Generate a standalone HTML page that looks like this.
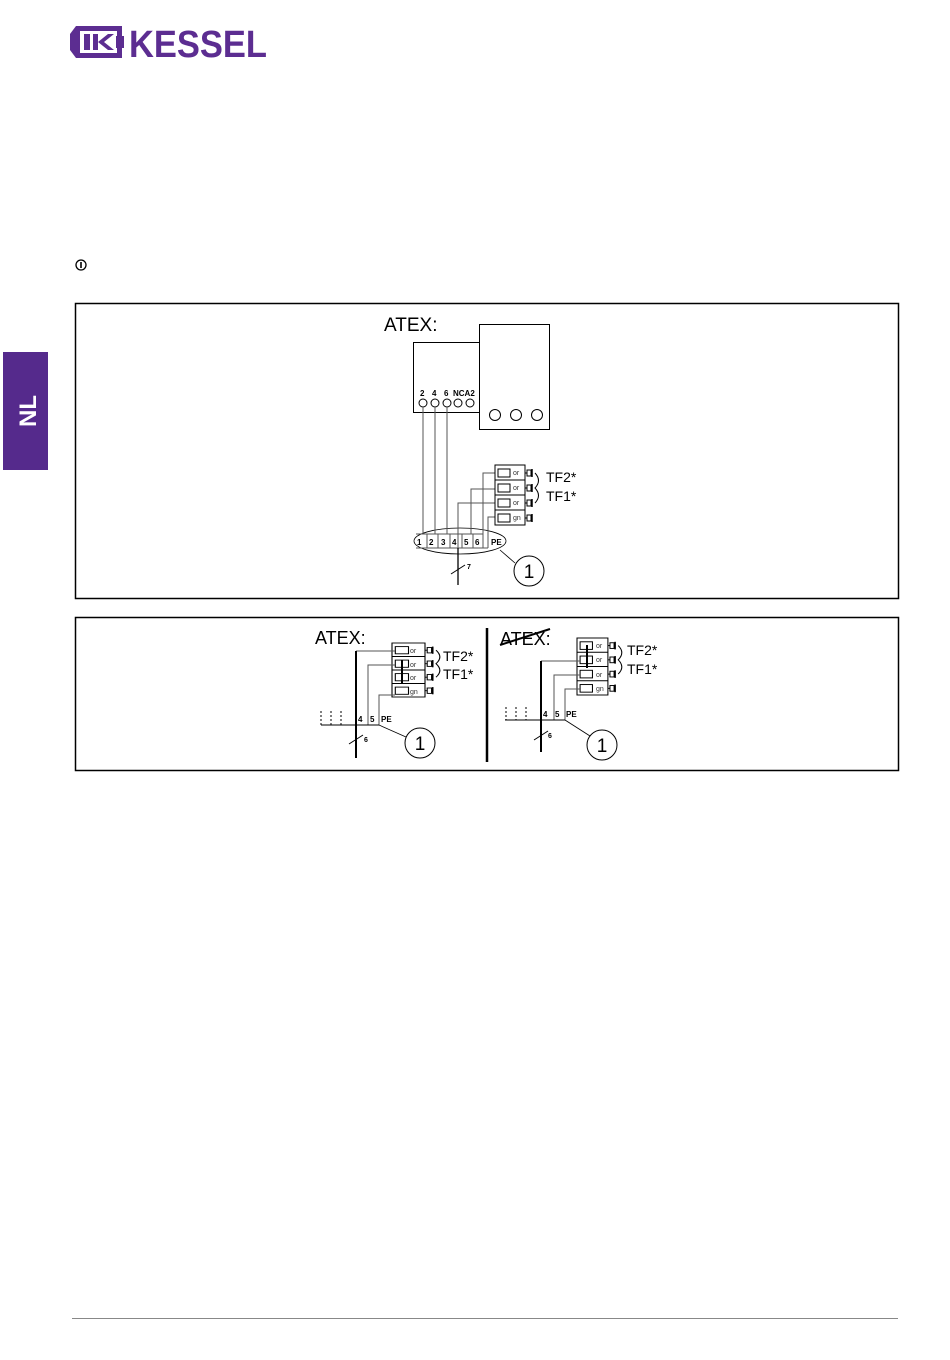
<!DOCTYPE html>
<html><head><meta charset="utf-8"><style>
html,body{margin:0;padding:0;background:#fff;}
svg{display:block;font-family:"Liberation Sans",Arial,sans-serif;}
</style></head><body>
<svg width="950" height="1360" viewBox="0 0 950 1360" xmlns="http://www.w3.org/2000/svg">
<defs>
<g id="blk" fill="none" stroke="#000" stroke-width="1">
  <rect x="0" y="0" width="30" height="60" fill="#fff"/>
  <line x1="0" y1="15" x2="30" y2="15"/><line x1="0" y1="30" x2="30" y2="30"/><line x1="0" y1="45" x2="30" y2="45"/>
  <rect x="3" y="4" width="12" height="8"/><rect x="3" y="19" width="12" height="8"/><rect x="3" y="34" width="12" height="8"/><rect x="3" y="49" width="12" height="8"/>
  <g id="plug"><line x1="30" y1="8" x2="32" y2="8"/><rect x="32" y="5" width="4" height="6"/><line x1="37" y1="4" x2="37" y2="12" stroke-width="1.5"/></g>
  <use href="#plug" y="15"/><use href="#plug" y="30"/><use href="#plug" y="45"/>
  <path d="M40 8 Q47 15.5 40 23 Q47 30.5 40 38"/>
</g>
</defs>

<!-- Logo -->
<path d="M76 26 H122 V58 H76 L70 50 V34 Z" fill="#5c2d91"/>
<rect x="80" y="31" width="37" height="22" fill="#fff"/>
<rect x="84" y="34" width="6" height="16" fill="#5c2d91"/>
<rect x="93" y="34" width="5" height="16" fill="#5c2d91"/>
<path d="M98 42 L108 34 H114 L104 42 L114 50 H108 Z" fill="#5c2d91"/>
<path d="M116 36 H124 V48 H116 Z" fill="#5c2d91"/>
<text x="129" y="57" font-size="38" font-weight="bold" fill="#5c2d91" textLength="138" lengthAdjust="spacingAndGlyphs">KESSEL</text>

<!-- NL tab -->
<rect x="3" y="352" width="45" height="118" fill="#552a8c"/>
<text transform="translate(36,411) rotate(-90)" text-anchor="middle" font-size="24" font-weight="bold" fill="#fff">NL</text>

<!-- info icon -->
<circle cx="81" cy="265" r="5" fill="none" stroke="#000" stroke-width="1.3"/>
<line x1="81" y1="262" x2="81" y2="268" stroke="#000" stroke-width="1.6"/>

<!-- Box 1 -->
<rect x="75.5" y="303.5" width="823" height="295" fill="none" stroke="#000" stroke-width="1.5"/>
<text x="384" y="331" font-size="19">ATEX:</text>
<rect x="413.5" y="342.5" width="66" height="70" fill="none" stroke="#000"/>
<rect x="479.5" y="324.5" width="70" height="105" fill="none" stroke="#000"/>
<g font-size="8" font-weight="bold"><text x="420" y="396">2</text><text x="432" y="396">4</text><text x="444" y="396">6</text><text x="453" y="396">NCA2</text></g>
<g fill="none" stroke="#000"><circle cx="423" cy="403" r="4"/><circle cx="435" cy="403" r="4"/><circle cx="447" cy="403" r="4"/><circle cx="458" cy="403" r="4"/><circle cx="470" cy="403" r="4"/>
<circle cx="495" cy="415" r="5.5"/><circle cx="516" cy="415" r="5.5"/><circle cx="537" cy="415" r="5.5"/></g>
<ellipse cx="460" cy="541" rx="46" ry="13" fill="none" stroke="#000" stroke-width="0.8"/>
<g stroke="#555" fill="none" stroke-width="1">
<line x1="423" y1="407" x2="423" y2="534"/><line x1="435" y1="407" x2="435" y2="534"/><line x1="447" y1="407" x2="447" y2="534"/>
<polyline points="495,473 483,473 483,548"/><polyline points="495,489 471,489 471,534"/><polyline points="495,503 458,503 458,548"/><polyline points="495,517 488,517 488,548"/>
<line x1="427" y1="534" x2="427" y2="548"/><line x1="438" y1="534" x2="438" y2="548"/><line x1="450" y1="534" x2="450" y2="548"/><line x1="462" y1="534" x2="462" y2="548"/><line x1="473" y1="534" x2="473" y2="548"/>
<line x1="416" y1="534" x2="483" y2="534"/>
<line x1="416" y1="548" x2="488" y2="548"/>
</g>
<g font-size="8" font-weight="bold"><text x="417" y="545">1</text><text x="429" y="545">2</text><text x="441" y="545">3</text><text x="452" y="545">4</text><text x="464" y="545">5</text><text x="475" y="545">6</text><text x="491" y="545">PE</text></g>
<line x1="458" y1="548" x2="458" y2="585" stroke="#000" stroke-width="1.3"/>
<line x1="451" y1="574" x2="465" y2="565" stroke="#000"/>
<text x="467" y="569" font-size="7" font-weight="bold">7</text>
<line x1="500" y1="550" x2="515" y2="563" stroke="#000" stroke-width="0.8"/>
<circle cx="529" cy="571" r="15" fill="#fff" stroke="#000"/>
<text x="529" y="578" font-size="19" text-anchor="middle">1</text>
<use href="#blk" x="495" y="465"/>
<g font-size="7" fill="#333"><text x="513" y="475">or</text><text x="513" y="490">or</text><text x="513" y="505">or</text><text x="513" y="520">gn</text></g>
<text x="546" y="482" font-size="14">TF2*</text><text x="546" y="501" font-size="14">TF1*</text>

<!-- Box 2 -->
<rect x="75.5" y="617.5" width="823" height="153" fill="none" stroke="#000" stroke-width="1.5"/>
<line x1="487" y1="628" x2="487" y2="762" stroke="#000" stroke-width="2.5"/>

<!-- left -->
<text x="315" y="644" font-size="18">ATEX:</text>
<use href="#blk" transform="translate(392,643) scale(1.1,0.9)"/>
<g font-size="7" fill="#333"><text x="410" y="653">or</text><text x="410" y="667">or</text><text x="410" y="680">or</text><text x="410" y="694">gn</text></g>
<text x="443" y="661" font-size="14">TF2*</text><text x="443" y="679" font-size="14">TF1*</text>
<line x1="402" y1="660" x2="402" y2="684" stroke="#000" stroke-width="2"/>
<g stroke="#555" fill="none"><polyline points="395,651 356,651"/><polyline points="395,665 368,665 368,725"/><polyline points="395,695 379,695 379,725"/></g>
<line x1="321" y1="725" x2="379" y2="725" stroke="#000"/>
<g stroke="#000" stroke-dasharray="2,2"><line x1="321" y1="711" x2="321" y2="725"/><line x1="331" y1="711" x2="331" y2="725"/><line x1="341" y1="711" x2="341" y2="725"/></g>
<line x1="356" y1="651" x2="356" y2="758" stroke="#000" stroke-width="2"/>
<g font-size="8" font-weight="bold"><text x="358" y="722">4</text><text x="370" y="722">5</text><text x="381" y="722">PE</text></g>
<line x1="349" y1="744" x2="363" y2="735" stroke="#000"/><text x="364" y="742" font-size="7" font-weight="bold">6</text>
<line x1="379" y1="725" x2="406" y2="737" stroke="#000" stroke-width="0.8"/>
<circle cx="420" cy="743" r="15" fill="#fff" stroke="#000"/>
<text x="420" y="750" font-size="19" text-anchor="middle">1</text>

<!-- right -->
<text x="500" y="645" font-size="18">ATEX:</text>
<line x1="500" y1="645" x2="550" y2="629" stroke="#000" stroke-width="2"/>
<use href="#blk" transform="translate(577,638) scale(1.03,0.95)"/>
<g font-size="7" fill="#333"><text x="596" y="648">or</text><text x="596" y="662">or</text><text x="596" y="677">or</text><text x="596" y="691">gn</text></g>
<text x="627" y="655" font-size="14">TF2*</text><text x="627" y="674" font-size="14">TF1*</text>
<line x1="587" y1="645" x2="587" y2="668" stroke="#000" stroke-width="2"/>
<g stroke="#555" fill="none"><polyline points="580,661 541,661"/><polyline points="580,675 554,675 554,720"/><polyline points="580,689 565,689 565,720"/></g>
<line x1="505" y1="720" x2="565" y2="720" stroke="#000"/>
<g stroke="#000" stroke-dasharray="2,2"><line x1="506" y1="707" x2="506" y2="720"/><line x1="516" y1="707" x2="516" y2="720"/><line x1="526" y1="707" x2="526" y2="720"/></g>
<line x1="541" y1="661" x2="541" y2="752" stroke="#000" stroke-width="2"/>
<g font-size="8" font-weight="bold"><text x="543" y="717">4</text><text x="555" y="717">5</text><text x="566" y="717">PE</text></g>
<line x1="534" y1="740" x2="548" y2="731" stroke="#000"/><text x="548" y="738" font-size="7" font-weight="bold">6</text>
<line x1="565" y1="720" x2="590" y2="736" stroke="#000" stroke-width="0.8"/>
<circle cx="602" cy="745" r="15" fill="#fff" stroke="#000"/>
<text x="602" y="752" font-size="19" text-anchor="middle">1</text>

<!-- footer line -->
<line x1="72" y1="1318.5" x2="898" y2="1318.5" stroke="#888" stroke-width="1"/>
</svg>
</body></html>
